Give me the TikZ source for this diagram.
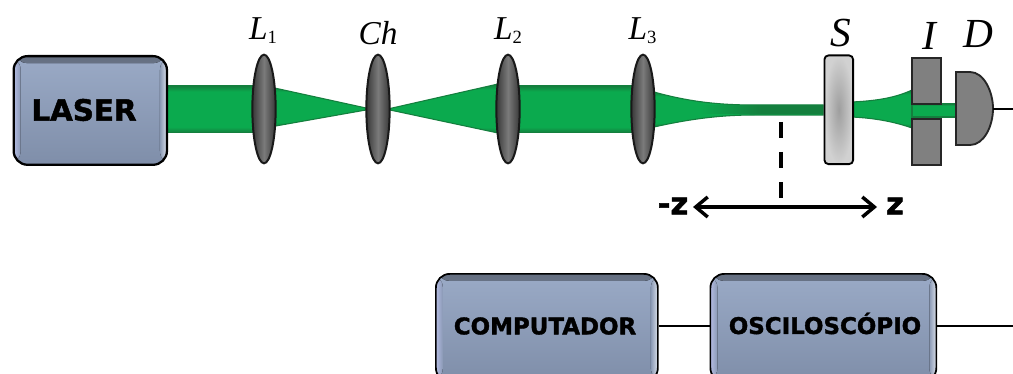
\documentclass[tikz,border=0pt]{standalone}
\usepackage{fontspec}
\usetikzlibrary{arrows.meta,shapes.geometric,calc}
\setmainfont{Liberation Serif}
\newfontfamily\heavyfont{DejaVu Sans Bold}[FakeBold=1.6]
\definecolor{beamgreen}{HTML}{0BAA4E}
\definecolor{beamdark}{HTML}{147F3E}
\definecolor{panelblue}{HTML}{8A99B4}
\definecolor{paneltop}{HTML}{9AAAC6}
\definecolor{panelbot}{HTML}{7F8EA9}
\pgfdeclareverticalshading{beamshade}{100bp}{color(0bp)=(beamdark); color(25bp)=(beamdark); color(31bp)=(beamgreen); color(69bp)=(beamgreen); color(75bp)=(beamdark); color(100bp)=(beamdark)}
\tikzset{
  x=0.75pt,y=-0.75pt,
  panel/.style={draw=black,line width=1.3pt,rounded corners=10.5pt,inner sep=0pt,anchor=north west,
    top color=paneltop,bottom color=panelbot,
    path picture={
      \fill[top color=black!35!paneltop,bottom color=paneltop]
        (path picture bounding box.north west) rectangle ($(path picture bounding box.north east)+(0,7)$);
      \fill[left color=white!45!paneltop!90!blue,right color=panelblue]
        (path picture bounding box.north west) rectangle ($(path picture bounding box.south west)+(7,0)$);
      \fill[left color=panelblue,right color=white!65!paneltop]
        ($(path picture bounding box.north east)+(-7,0)$) rectangle (path picture bounding box.south east);
    }},
  paneltext/.style={text=black,inner sep=0pt},
  lens/.style={ellipse,draw=black!90,line width=1.5pt,minimum width=17.5pt,minimum height=81.5pt,inner sep=0pt,
    left color=black!78,right color=black!78,middle color=black!52},
  beam/.style={draw=beamdark,line width=0.8pt,shading=beamshade},
  optlabel/.style={font=\itshape\fontsize{25}{25}\selectfont,inner sep=0pt,anchor=base},
  biglabel/.style={font=\itshape\fontsize{31}{31}\selectfont,inner sep=0pt,anchor=base},
  blockgray/.style={draw=black!85,line width=1.4pt,inner sep=0pt,anchor=north west,fill=black!50},
  wire/.style={draw=black,line width=2pt},
}
\newcommand{\lsub}[1]{\raisebox{-3pt}{\normalfont\fontsize{14}{14}\selectfont #1}}
\begin{document}
\begin{tikzpicture}
\useasboundingbox (0,0) rectangle (1013,374);
\clip (0,0) rectangle (1013,374);
\fill[white] (0,0) rectangle (1013,374);
% beam
\path[beam] (165,86) -- (256,86) -- (256,132.5) -- (165,132.5) -- cycle;
\path[beam] (270,87) -- (366,108) -- (366,110) -- (270,127) -- cycle;
\path[beam] (390,108.5) -- (498,84) -- (498,133) -- (390,110) -- cycle;
\path[beam] (515,86) -- (635,86) -- (635,132.5) -- (515,132.5) -- cycle;
\path[beam] (654,92) .. controls (690,102) and (720,105) .. (755,105)
  -- (823,105) -- (823,115) -- (755,115) .. controls (720,115) and (690,119) .. (654,127) -- cycle;
\fill[left color=beamgreen,right color=beamdark,middle color=beamdark] (700,106) rectangle (823,114);
\path[beam] (851,102) .. controls (875,101) and (895,98) .. (912,90)
  -- (912,128) .. controls (895,122) and (875,118) .. (851,117) -- cycle;
\path[beam] (912,104) rectangle (956,117);
% panels
\node[panel,line width=1.7pt,minimum width=115pt,minimum height=81.5pt] (laser) at (12.5,55) {};
\node[paneltext,font=\heavyfont\fontsize{22}{22}\selectfont] at (84,110) {LASER};
\node[panel,minimum width=166.5pt,minimum height=81pt] (comp) at (435,273) {};
\node[paneltext,font=\heavyfont\fontsize{17.2}{18}\selectfont] at (545,326) {COMPUTADOR};
\node[panel,minimum width=169.5pt,minimum height=81pt] (osc) at (709.5,273) {};
\node[paneltext,font=\heavyfont\fontsize{17.2}{18}\selectfont] at (825,323.5) {OSCILOSCÓPIO};
\coordinate (rowline) at (1013,326);
\draw[wire] (comp.east |- rowline) -- (osc.west |- rowline);
\draw[wire] (osc.east |- rowline) -- (rowline);
% lenses
\node[lens] (l1) at (264,109) {};
\node[lens] (ch) at (378,109) {};
\node[lens] (l2) at (508,109) {};
\node[lens] (l3) at (643,109) {};
% sample
\node[draw=black,line width=1.4pt,rounded corners=3pt,minimum width=21.5pt,minimum height=81.5pt,inner sep=0pt,
  anchor=north west,inner color=black!38,outer color=black!18] (s) at (823.5,54.5) {};
% iris
\node[blockgray,minimum width=22pt,minimum height=34.5pt] (i1) at (911,57.5) {};
\node[blockgray,minimum width=22pt,minimum height=34.5pt] (i2) at (911,118) {};
% detector
\draw[draw=black!85,line width=1.4pt,fill=black!50] (956,72) -- (970,72)
  .. controls (984,72) and (993,92) .. (993,108.5) .. controls (993,126) and (984,145) .. (970,145) -- (956,145) -- cycle;
\coordinate (det) at (993,109);
\coordinate (detend) at (1013,109);
\draw[wire] (det) -- (detend);
% z axis
\coordinate (zl) at (693,207);
\coordinate (zr) at (877,207);
\coordinate (wa) at (781,122);
\coordinate (wb) at (781,198);
\draw[line width=3.2pt,dash pattern=on 12pt off 10.5pt] (wa) -- (wb);
\draw[line width=2.6pt,{Straight Barb[length=9pt,width=15pt]}-{Straight Barb[length=9pt,width=15pt]}] (zl) -- (zr);
\node[font=\heavyfont\fontsize{23}{23}\selectfont,inner sep=0pt] (mz) at (673,206) {-z};
\node[font=\heavyfont\fontsize{23}{23}\selectfont,inner sep=0pt] (pz) at (895,206) {z};
% labels
\node[optlabel] (t1) at (263,40) {L\lsub{1}};
\node[optlabel] (t2) at (378,45) {Ch};
\node[optlabel] (t3) at (508,40) {L\lsub{2}};
\node[optlabel] (t4) at (642.5,40) {L\lsub{3}};
\node[biglabel] (t5) at (841,47) {S};
\node[biglabel] (t6) at (929,50) {I};
\node[biglabel] (t7) at (978,48) {D};
\end{tikzpicture}
\end{document}
